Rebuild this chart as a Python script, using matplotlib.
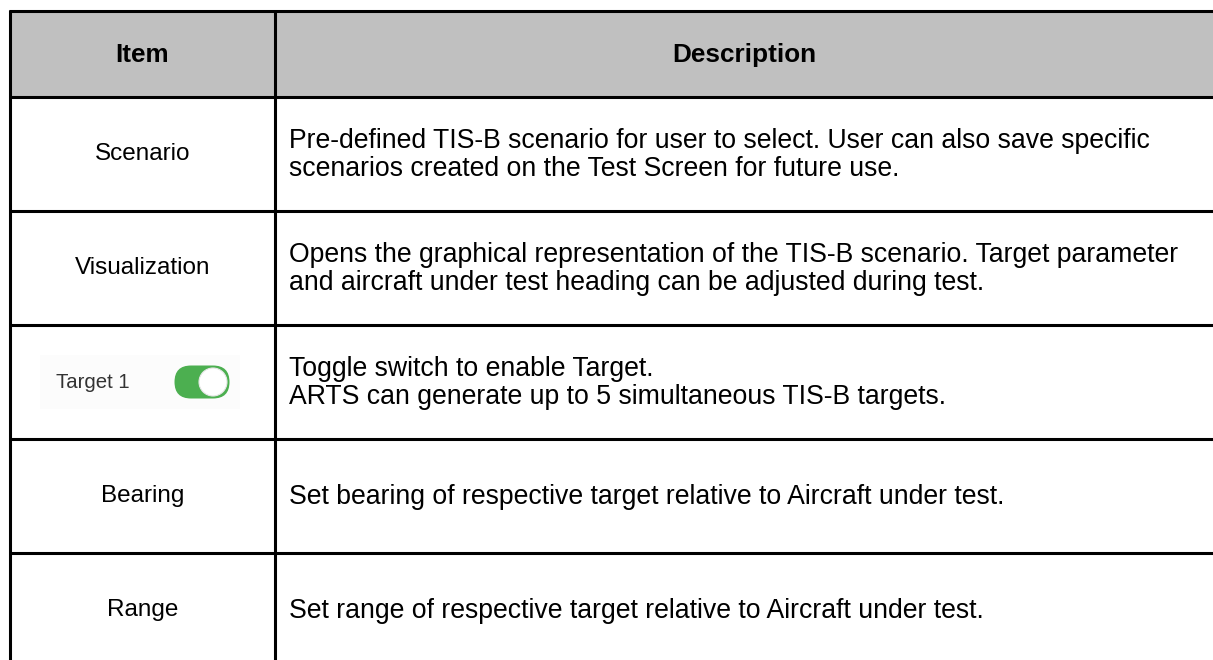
import matplotlib
matplotlib.use("Agg")
import matplotlib.pyplot as plt
from matplotlib.patches import Rectangle, FancyBboxPatch, Circle

plt.rcParams['font.family'] = ['Liberation Sans', 'DejaVu Sans']

# ---- table content ----
headers = ["Item", "Description"]
items = ["Scenario", "Visualization", "Target 1", "Bearing", "Range"]
descriptions = [
    "Pre-defined TIS-B scenario for user to select. User can also save specific\nscenarios created on the Test Screen for future use.",
    "Opens the graphical representation of the TIS-B scenario. Target parameter\nand aircraft under test heading can be adjusted during test.",
    "Toggle switch to enable Target.\nARTS can generate up to 5 simultaneous TIS-B targets.",
    "Set bearing of respective target relative to Aircraft under test.",
    "Set range of respective target relative to Aircraft under test.",
]
toggle_rows = [False, False, True, False, False]

# ---- layout (pixels) ----
W, H = 1213, 660
left, mid, right = 10, 275, 1213
top, header_bottom = 11, 97
row_h = 114
lw = 2.2
fs_item = 17.5
fs_desc = 19.2
fs_head = 18.8

fig = plt.figure(figsize=(W / 100, H / 100), dpi=100)
ax = fig.add_axes([0, 0, 1, 1])
ax.set_xlim(0, W)
ax.set_ylim(H, 0)
ax.axis('off')

# header
ax.add_patch(Rectangle((left, top), right - left, header_bottom - top,
                       facecolor='#C0C0C0', edgecolor='none', zorder=1))
ax.text((left + mid) / 2, (top + header_bottom) / 2 + 1, headers[0], ha='center', va='center',
        fontsize=fs_head, fontweight='bold', color='black', zorder=3)
ax.text((mid + right) / 2, (top + header_bottom) / 2 + 1, headers[1], ha='center', va='center',
        fontsize=fs_head, fontweight='bold', color='black', zorder=3)

# horizontal lines
ys = [top, header_bottom] + [header_bottom + row_h * (i + 1) for i in range(len(items) - 1)]
for y in ys:
    ax.plot([left - 1, right], [y, y], color='black', lw=lw, solid_capstyle='butt', zorder=4)
# vertical lines
for x in [left, mid]:
    ax.plot([x, x], [top - 1, H + 5], color='black', lw=lw, solid_capstyle='butt', zorder=4)

# rows
for i, (item, desc, tog) in enumerate(zip(items, descriptions, toggle_rows)):
    yc = header_bottom + row_h * i + row_h / 2
    if tog:
        ax.add_patch(Rectangle((40, yc - 27), 200, 54, facecolor='#FCFCFC', edgecolor='none', zorder=1))
        ax.text(93, yc + 1, item, ha='center', va='center', fontsize=14.7, color='#333333', zorder=3)
        cx, w, h = 202, 55, 33
        ax.add_patch(FancyBboxPatch((cx - w / 2, yc - h / 2), w, h,
                                    boxstyle=f"round,pad=0,rounding_size={h/2}",
                                    facecolor='#4CAF50', edgecolor='none', zorder=2))
        ax.add_patch(Circle((cx + w / 2 - h / 2, yc), h / 2 - 2.5, facecolor='white',
                            edgecolor='#E6E6E6', lw=0.8, zorder=3))
    else:
        ax.text((left + mid) / 2, yc, item, ha='center', va='center', fontsize=fs_item,
                color='black', zorder=3)
    ax.text(289, yc + 1, desc, ha='left', va='center', fontsize=fs_desc, color='black',
            linespacing=1.12, zorder=3)

fig.savefig('out.png', dpi=100, facecolor='white')
